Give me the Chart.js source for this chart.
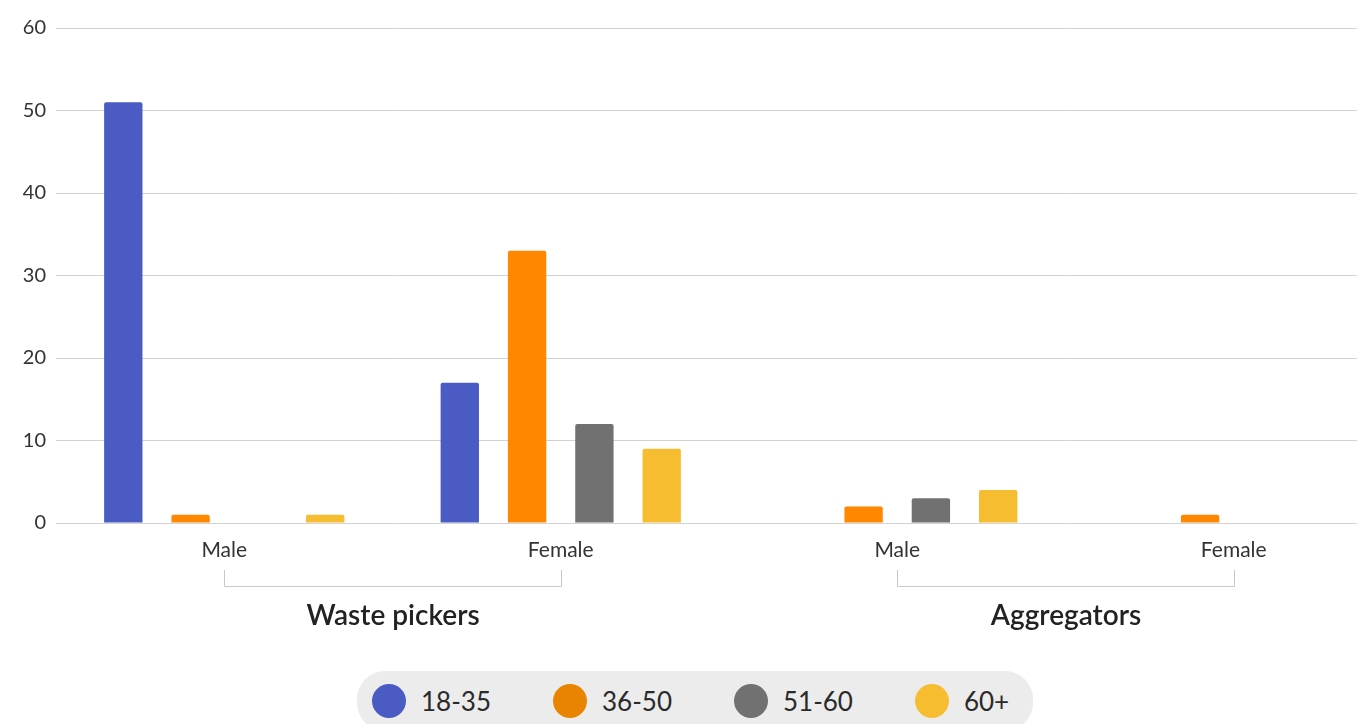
<!doctype html>
<html>
  <head>
    <title>Waste pickers and aggregators by age</title>
    <script src="https://cdn.jsdelivr.net/npm/chart.js@4"></script>
    <style>
      body { margin: 0; overflow: hidden; background: #fff; font-family: Lato, "Open Sans", sans-serif; }
      #wrap { position: relative; width: 1357px; height: 724px; overflow: hidden; }
      #legend {
        position: absolute; left: 357px; top: 671px; height: 60px;
        padding: 0 24px 0 15px; background: #ececec; border-radius: 28px;
        display: flex; align-items: center;
      }
      .item { display: flex; align-items: center; margin-right: 62px; }
      .item:last-child { margin-right: 0; }
      .dot { width: 34px; height: 34px; border-radius: 50%; margin-right: 15px; }
      .txt { font-size: 26px; color: #2a2a2a; }
    </style>
  </head>
  <body>
    <div id="wrap">
      <canvas id="chart" width="1402" height="724"></canvas>
      <div id="legend"></div>
    </div>
  </body>
  <script>
    const categories = ['Male', 'Female', 'Male', 'Female'];
    const groupLabels = ['Waste pickers', 'Aggregators'];
    const groupRanges = [[0, 1], [2, 3]];

    const seriesNames = ['18-35', '36-50', '51-60', '60+'];
    const age18to35 = [51, 17, 0, 0];
    const age36to50 = [1, 33, 2, 1];
    const age51to60 = [0, 12, 3, 0];
    const age60plus = [1, 9, 4, 0];

    const barColors = ['#4a5bc4', '#ff8800', '#717171', '#f7bd30'];
    const legendColors = ['#4a5bc4', '#e98400', '#717171', '#f7bd30'];

    const yTicks = [0, 10, 20, 30, 40, 50, 60];

    // brackets + group names under the category labels
    const groupBrackets = {
      id: 'groupBrackets',
      afterDraw(chart) {
        const ctx = chart.ctx;
        const x = chart.scales.x;
        const base = chart.chartArea.bottom;
        ctx.save();
        groupRanges.forEach((r, i) => {
          const x0 = Math.round(x.getPixelForValue(r[0])) + 0.5;
          const x1 = Math.round(x.getPixelForValue(r[1])) + 0.5;
          ctx.strokeStyle = '#c8c8c8';
          ctx.lineWidth = 1;
          ctx.beginPath();
          ctx.moveTo(x0, base + 47);
          ctx.lineTo(x0, base + 63.5);
          ctx.lineTo(x1, base + 63.5);
          ctx.lineTo(x1, base + 47);
          ctx.stroke();
          ctx.fillStyle = '#222';
          ctx.font = '600 28px Lato, sans-serif';
          ctx.textAlign = 'center';
          ctx.textBaseline = 'middle';
          ctx.fillText(groupLabels[i], (x0 + x1) / 2, base + 93);
        });
        ctx.restore();
      }
    };

    const datasets = [age18to35, age36to50, age51to60, age60plus].map((d, i) => ({
      label: seriesNames[i],
      data: d,
      backgroundColor: barColors[i],
      borderRadius: 2,
      borderSkipped: 'bottom',
      categoryPercentage: 0.8,
      barPercentage: 0.57,
    }));

    new Chart(document.getElementById('chart').getContext('2d'), {
      type: 'bar',
      data: { labels: categories, datasets: datasets },
      options: {
        responsive: false,
        animation: false,
        layout: { padding: { top: 28, left: 0, right: 0, bottom: 0 } },
        plugins: { legend: { display: false }, tooltip: { enabled: false } },
        scales: {
          x: {
            grid: { display: false },
            border: { display: false },
            ticks: { color: '#333', font: { family: 'Lato', size: 21 }, padding: 7 },
            afterFit: (s) => { s.height = 201; },
          },
          y: {
            min: 0,
            max: 60,
            afterBuildTicks: (s) => { s.ticks = yTicks.map(v => ({ value: v })); },
            grid: { color: '#d2d2d2', drawTicks: false },
            border: { display: false },
            ticks: { color: '#333', font: { family: 'Lato', size: 20 }, padding: 10 },
            afterFit: (s) => { s.width = 56; },
          }
        }
      },
      plugins: [groupBrackets]
    });

    const legend = document.getElementById('legend');
    seriesNames.forEach((name, i) => {
      const item = document.createElement('div');
      item.className = 'item';
      item.innerHTML = '<span class="dot" style="background:' + legendColors[i] + '"></span><span class="txt">' + name + '</span>';
      legend.appendChild(item);
    });
  </script>
</html>
